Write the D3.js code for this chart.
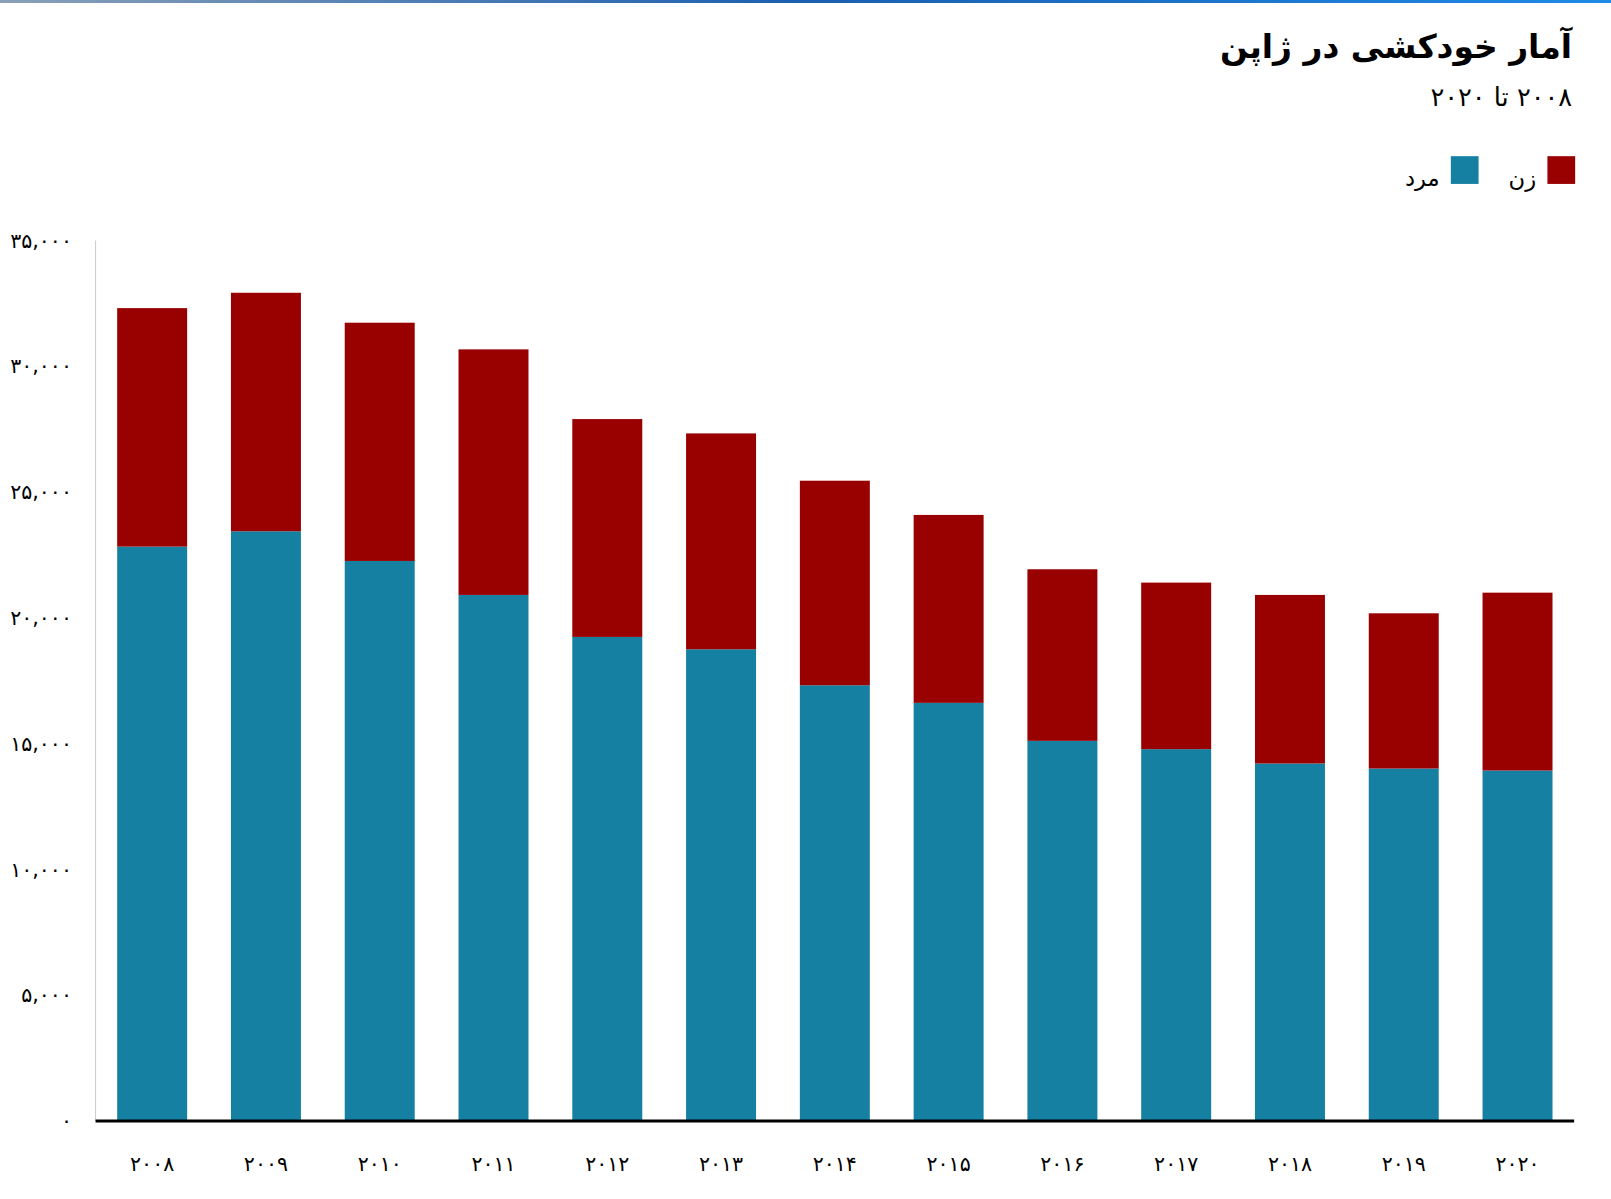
<!DOCTYPE html>
<html><head><meta charset="utf-8">
<script src="https://cdn.jsdelivr.net/npm/d3@7"></script>
<style>body{margin:0;background:#fff}svg{display:block}text{font-family:"DejaVu Sans",sans-serif}</style>
</head><body>
<svg id="c" width="1611" height="1199"></svg>
<script>
const years = ["۲۰۰۸","۲۰۰۹","۲۰۱۰","۲۰۱۱","۲۰۱۲","۲۰۱۳","۲۰۱۴","۲۰۱۵","۲۰۱۶","۲۰۱۷","۲۰۱۸","۲۰۱۹","۲۰۲۰"];
const male = [22830,23440,22260,20910,19240,18750,17320,16620,15110,14780,14210,14010,13930];
const female = [9480,9480,9470,9760,8660,8580,8130,7470,6820,6620,6700,6170,7070];
const yTicks = [0,5000,10000,15000,20000,25000,30000,35000];
const yTickLabels = ["۰","۵,۰۰۰","۱۰,۰۰۰","۱۵,۰۰۰","۲۰,۰۰۰","۲۵,۰۰۰","۳۰,۰۰۰","۳۵,۰۰۰"];
const title = "آمار خودکشی در ژاپن";
const subtitle = "۲۰۰۸ تا ۲۰۲۰";
const seriesNames = ["زن","مرد"];
const colors = {male:"#1580a2", female:"#990000"};

const root = d3.select("#c");
const grad = root.append("defs").append("linearGradient").attr("id","g");
grad.append("stop").attr("offset","0").attr("stop-color","#8aa0b8");
grad.append("stop").attr("offset","0.5").attr("stop-color","#1a5fb0");
grad.append("stop").attr("offset","1").attr("stop-color","#1e8ae6");
root.append("rect").attr("x",0).attr("y",0).attr("width",1611).attr("height",3).attr("fill","url(#g)");

const svg = root.append("g").attr("transform","scale(1.0275)");
const L=93,R=1532,T=234,B=1091;
const x = d3.scaleBand().domain(years).range([L,R]).paddingInner(0.385).paddingOuter(0.19);
const y = d3.scaleLinear().domain([0,35000]).range([B,T]);

svg.append("text").attr("x",1530).attr("y",56).attr("text-anchor","start").attr("direction","rtl")
  .attr("font-size",32).attr("font-weight","bold").text(title);
svg.append("text").attr("x",1530).attr("y",103).attr("text-anchor","start").attr("direction","rtl")
  .attr("font-size",25).text(subtitle);

[[seriesNames[0],colors.female,1506],[seriesNames[1],colors.male,1412]].forEach(([n,c,px])=>{
  svg.append("rect").attr("x",px).attr("y",152).attr("width",27).attr("height",27).attr("fill",c);
  svg.append("text").attr("x",px-11).attr("y",181).attr("text-anchor","start").attr("direction","rtl")
    .attr("font-size",22).text(n);
});

svg.append("line").attr("x1",L).attr("x2",L).attr("y1",T).attr("y2",B).attr("stroke","#ccc");

const yAxis = svg.append("g").attr("transform",`translate(${L-20},0)`)
  .call(d3.axisLeft(y).tickValues(yTicks).tickSize(0).tickFormat((d,i)=>yTickLabels[i]));
yAxis.select(".domain").remove();
yAxis.selectAll("text").attr("font-size",20).attr("fill","#000").attr("font-family","DejaVu Sans");

years.forEach((yr,i)=>{
  svg.append("rect").attr("x",x(yr)).attr("width",x.bandwidth()).attr("y",y(male[i])).attr("height",B-y(male[i])).attr("fill",colors.male);
  svg.append("rect").attr("x",x(yr)).attr("width",x.bandwidth()).attr("y",y(male[i]+female[i])).attr("height",y(male[i])-y(male[i]+female[i])).attr("fill",colors.female);
});

const xAxis = svg.append("g").attr("transform",`translate(0,${B})`)
  .call(d3.axisBottom(x).tickSize(0).tickPadding(34));
xAxis.select(".domain").remove();
xAxis.selectAll("text").attr("font-size",20).attr("fill","#000").attr("font-family","DejaVu Sans");
svg.append("line").attr("x1",L).attr("x2",R).attr("y1",B).attr("y2",B).attr("stroke","#000").attr("stroke-width",3);
</script>
</body></html>
